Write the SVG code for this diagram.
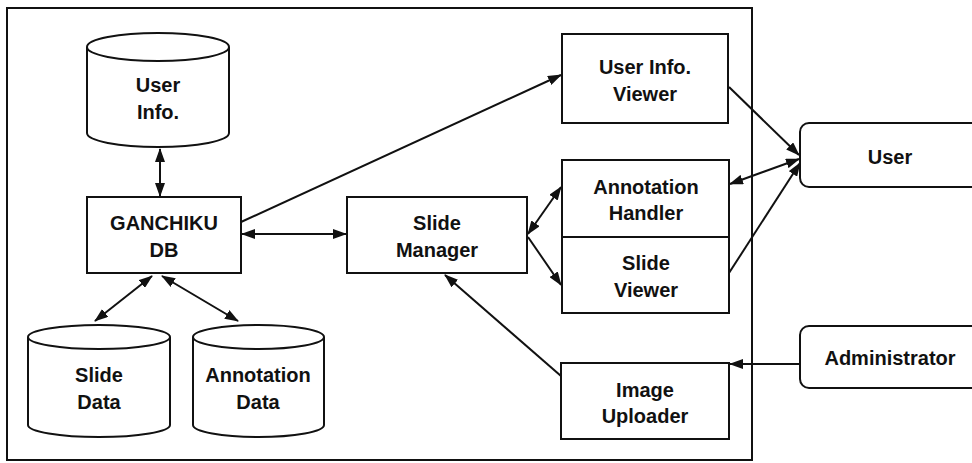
<svg xmlns="http://www.w3.org/2000/svg" width="972" height="463" viewBox="0 0 972 463">
<defs>
<style>
.box{fill:#fff;stroke:#111;stroke-width:2}
.ln{fill:none;stroke:#111;stroke-width:2}
.t{font-family:"Liberation Sans",Arial,sans-serif;font-weight:bold;font-size:20px;fill:#111;text-anchor:middle}
</style>
<marker id="ah" markerUnits="userSpaceOnUse" markerWidth="14" markerHeight="10" viewBox="0 0 14 10" refX="13" refY="5" orient="auto-start-reverse">
<path d="M0,0 L14,5 L0,10 z" fill="#111"/>
</marker>
</defs>
<rect width="972" height="463" fill="#fff"/>
<rect x="7" y="8" width="745" height="452" fill="none" stroke="#111" stroke-width="2"/>

<g id="connectors">
<line class="ln" x1="160" y1="149" x2="160" y2="196" marker-start="url(#ah)" marker-end="url(#ah)"/>
<line class="ln" x1="152" y1="276" x2="95" y2="321" marker-start="url(#ah)" marker-end="url(#ah)"/>
<line class="ln" x1="162" y1="276" x2="238" y2="321" marker-start="url(#ah)" marker-end="url(#ah)"/>
<line class="ln" x1="242" y1="234" x2="346" y2="234" marker-start="url(#ah)" marker-end="url(#ah)"/>
<line class="ln" x1="241" y1="222" x2="561" y2="75" marker-end="url(#ah)"/>
<line class="ln" x1="528" y1="234" x2="561" y2="187" marker-start="url(#ah)" marker-end="url(#ah)"/>
<line class="ln" x1="528" y1="237" x2="561" y2="285" marker-end="url(#ah)"/>
<line class="ln" x1="561" y1="376" x2="445" y2="275" marker-end="url(#ah)"/>
<line class="ln" x1="729" y1="87" x2="799" y2="155" marker-end="url(#ah)"/>
<line class="ln" x1="799" y1="159" x2="730" y2="184" marker-start="url(#ah)" marker-end="url(#ah)"/>
<line class="ln" x1="729" y1="273" x2="800" y2="163" marker-end="url(#ah)"/>
<line class="ln" x1="800" y1="364" x2="730" y2="364" marker-end="url(#ah)"/>
</g>

<g id="user-info">
<path class="box" d="M87,47 A71,14 0 0 1 229,47 L229,133 A71,14 0 0 1 87,133 Z"/>
<path class="ln" d="M87,47 A71,14 0 0 0 229,47"/>
<text class="t" x="158" y="92">User</text>
<text class="t" x="158" y="119">Info.</text>
</g>

<g id="ganchiku-db">
<rect class="box" x="87" y="197" width="154" height="76"/>
<text class="t" x="164" y="230">GANCHIKU</text>
<text class="t" x="164" y="257">DB</text>
</g>

<g id="slide-data">
<path class="box" d="M28,337 A71,12 0 0 1 170,337 L170,425 A71,12 0 0 1 28,425 Z"/>
<path class="ln" d="M28,337 A71,12 0 0 0 170,337"/>
<text class="t" x="99" y="382">Slide</text>
<text class="t" x="99" y="409">Data</text>
</g>

<g id="annotation-data">
<path class="box" d="M193,337 A65.5,12 0 0 1 324,337 L324,425 A65.5,12 0 0 1 193,425 Z"/>
<path class="ln" d="M193,337 A65.5,12 0 0 0 324,337"/>
<text class="t" x="258" y="382">Annotation</text>
<text class="t" x="258" y="409">Data</text>
</g>

<g id="slide-manager">
<rect class="box" x="347" y="197" width="180" height="76"/>
<text class="t" x="437" y="230">Slide</text>
<text class="t" x="437" y="257">Manager</text>
</g>

<g id="user-info-viewer">
<rect class="box" x="562" y="34" width="166" height="89"/>
<text class="t" x="645" y="74">User Info.</text>
<text class="t" x="645" y="101">Viewer</text>
</g>

<g id="annotation-handler">
<rect class="box" x="562" y="160" width="167" height="77"/>
<text class="t" x="646" y="194">Annotation</text>
<text class="t" x="646" y="220">Handler</text>
</g>

<g id="slide-viewer">
<rect class="box" x="562" y="237" width="167" height="76"/>
<text class="t" x="646" y="270">Slide</text>
<text class="t" x="646" y="297">Viewer</text>
</g>

<g id="image-uploader">
<rect class="box" x="561" y="363" width="168" height="76"/>
<text class="t" x="645" y="397">Image</text>
<text class="t" x="645" y="423">Uploader</text>
</g>

<g id="user">
<rect class="box" x="800" y="123" width="185" height="64" rx="9"/>
<text class="t" x="890" y="164">User</text>
</g>

<g id="administrator">
<rect class="box" x="800" y="326" width="185" height="62" rx="9"/>
<text class="t" x="890" y="365">Administrator</text>
</g>
</svg>
